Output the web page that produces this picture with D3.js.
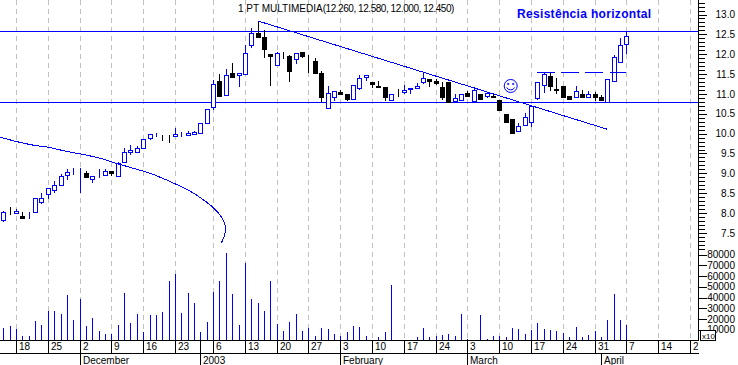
<!DOCTYPE html>
<html>
<head>
<meta charset="utf-8">
<script src="https://cdn.jsdelivr.net/npm/d3@7"></script>
<style>
  body { margin: 0; background: #fff; }
  svg { display: block; }
  text { font-family: "Liberation Sans", Arial, sans-serif; font-size: 10px; fill: #000; }
  .axis path { display: none; }
  .axis line { stroke: #000; shape-rendering: crispEdges; }
</style>
</head>
<body>
<svg id="chart" width="738" height="365"></svg>
<script>
var opens = [7.82,8.02,8.00,7.92,8.02,8.03,8.28,8.47,8.58,8.70,8.95,9.03,9.03,9.01,8.86,8.96,8.95,9.05,8.92,9.30,
  9.54,9.55,9.63,9.88,9.97,9.90,9.90,9.95,9.98,9.98,10.00,10.00,10.26,10.66,11.32,10.96,11.53,11.49,11.49,12.23,
  12.53,12.43,12.00,11.75,11.97,11.95,11.87,12.06,11.88,11.83,11.53,10.66,10.91,11.05,11.01,10.88,11.14,11.41,11.31,11.20,
  11.17,10.87,11.01,11.06,11.12,11.15,11.29,11.37,11.32,11.17,11.31,10.83,10.86,11.03,10.83,10.99,10.95,10.95,10.85,10.49,
  10.36,10.07,10.24,10.30,10.91,11.22,11.45,11.12,11.20,10.95,10.91,11.00,10.93,11.00,10.91,10.80,11.31,11.81,12.26];
var highs = [8.05,8.14,8.10,8.02,8.021,8.37,8.50,8.62,8.81,8.98,9.12,9.13,9.13,9.05,8.94,9.10,9.10,9.05,9.28,9.63,
  9.71,9.70,9.86,9.98,10.02,9.96,9.96,10.14,10.04,10.07,10.07,10.26,10.61,11.35,11.50,11.62,11.79,11.53,12.23,12.67,
  12.84,12.61,12.00,12.06,12.06,11.98,12.02,12.06,11.98,11.90,11.58,11.20,11.07,11.10,11.01,11.22,11.48,11.47,11.31,11.33,
  11.17,11.01,11.12,11.22,11.14,11.28,11.53,11.37,11.38,11.31,11.31,11.01,11.01,11.07,11.17,10.99,11.06,11.01,10.85,10.49,
  10.36,10.26,10.51,10.70,11.31,11.52,11.54,11.39,11.20,10.95,11.20,11.10,11.07,11.06,10.97,11.37,11.98,12.40,12.58];
var lows = [7.77,7.96,7.99,7.87,7.85,8.03,8.24,8.35,8.50,8.70,8.82,8.97,8.51,8.87,8.76,8.87,8.95,8.93,8.92,9.30,
  9.47,9.50,9.63,9.84,9.92,9.82,9.77,9.95,9.92,9.98,10.00,10.00,10.26,10.59,10.95,10.96,11.41,11.18,11.49,12.16,
  12.44,11.91,11.21,11.75,11.87,11.31,11.75,11.90,11.53,11.53,10.80,10.66,10.83,11.01,10.83,10.85,11.10,11.32,11.14,11.17,
  10.83,10.85,10.93,11.01,10.99,11.12,11.24,11.18,11.22,10.85,10.80,10.83,10.86,10.91,10.83,10.86,10.89,10.93,10.58,10.26,
  10.01,10.07,10.24,10.16,10.85,11.03,11.08,11.01,10.89,10.85,10.91,10.93,10.93,10.83,10.83,10.80,11.31,11.81,12.00];
var closes = [8.02,8.02,8.05,7.87,8.021,8.37,8.37,8.62,8.70,8.93,9.03,9.031,9.031,8.91,8.94,8.961,9.05,9.01,9.25,9.54,
  9.59,9.65,9.86,9.98,9.971,9.90,9.90,9.99,9.981,10.02,10.04,10.26,10.61,11.24,10.95,11.47,11.43,11.53,12.02,12.53,
  12.44,12.14,11.94,12.04,11.97,11.58,12.02,11.97,11.88,11.53,10.93,11.03,11.07,11.01,10.88,11.22,11.39,11.47,11.27,11.17,
  10.93,11.01,11.01,11.10,11.14,11.21,11.39,11.33,11.28,10.93,10.80,10.90,11.01,10.95,11.10,10.86,11.02,10.93,10.59,10.28,
  10.01,10.20,10.43,10.70,11.31,11.50,11.21,11.10,10.93,10.88,11.07,10.93,11.01,10.93,10.83,11.37,11.92,12.23,12.45];
var volumes = [12000,13900,11100,4600,4600,18500,14800,27800,27800,25000,42600,19400,38900,13900,21300,9300,6500,6500,14800,44400,
  16700,25000,8300,24100,24100,26800,55500,62000,25900,44400,35200,8300,17600,45400,55500,81500,43500,14800,72200,38900,
  35200,27800,55500,15700,9300,17600,25000,9300,12000,4600,12000,11100,6500,4600,8300,13900,13000,4600,900,2800,
  8300,51800,0,900,0,2800,12000,2800,4600,5500,6500,4600,25000,1800,900,24100,1800,4600,4600,3700,
  12000,11100,6500,10200,16700,11100,10200,9300,7400,3700,13000,3700,5500,9300,3700,19400,43500,19400,14800];

var weekIndex = [2,7,12,17,22,27,33,38,43,48,53,58,63,68,73,78,83,88,93,98,103,108];
var weekLabels = ['18','25','2','9','16','23','6','13','20','27','3','10','17','24','3','10','17','24','31','7','14','21'];
var monthIndex = [12,31,53,73,94];
var monthLabels = ['December','2003','February','March','April'];
var priceTicks = [7.5,8,8.5,9,9.5,10,10.5,11,11.5,12,12.5,13];
var priceMinorTicks = d3.range(71, 134).map(d => d / 10);
var volumeTicks = [10000,20000,30000,40000,50000,60000,70000,80000];

// hand drawn annotations, in bar index / price
var resistance = 12.58;
var support = 10.79;
var trendIndex = [40, 95];
var trendPrice = [12.84, 10.11];
var dashIndex = [83.9, 98];
var dashPrice = 11.53;
var arcIndex = [-0.5,2.1,4.7,7.3,10,12.1,15.2,17.8,20.4,23.1,26.7,29.4,31.4,33,34.1,34.7,35,34.7,34.3];
var arcPrice = [9.91,9.80,9.71,9.65,9.55,9.49,9.38,9.25,9.13,9.00,8.76,8.55,8.34,8.14,7.95,7.78,7.61,7.40,7.25];
var smileIndex = 79.8;
var smilePrice = 11.2;

var blue = '#0000ff';
var right = 698.5;
var axisY = 340.5;
var monthY = 353.5;

var svg = d3.select('#chart');

var x = d3.scaleLinear().domain([0, 108]).range([3.3, 690]);
var y = d3.scaleLinear().domain([13, 7.5]).range([14.5, 232.9]);
var yVol = d3.scaleLinear().domain([0, 80000]).range([340.5, 254.5]);
var px = i => Math.round(x(i)) + 0.5;

svg.append('defs').append('clipPath')
    .attr('id', 'plot-clip')
    .append('rect')
    .attr('width', right)
    .attr('height', 365);

// weekly grid
svg.append('g').selectAll('line')
    .data(weekIndex)
    .join('line')
    .attr('x1', d => px(d))
    .attr('x2', d => px(d))
    .attr('y1', 0)
    .attr('y2', axisY)
    .attr('stroke', '#c0c0c0')
    .attr('stroke-dasharray', '5,4')
    .attr('shape-rendering', 'crispEdges');

// volume
svg.append('g').selectAll('line')
    .data(volumes)
    .join('line')
    .attr('x1', (d, i) => px(i))
    .attr('x2', (d, i) => px(i))
    .attr('y1', yVol(0))
    .attr('y2', d => yVol(d))
    .attr('stroke', blue)
    .attr('shape-rendering', 'crispEdges');

// horizontal levels
svg.append('g').selectAll('line')
    .data([resistance, support])
    .join('line')
    .attr('x1', 0)
    .attr('x2', right)
    .attr('y1', d => Math.round(y(d)) + 0.5)
    .attr('y2', d => Math.round(y(d)) + 0.5)
    .attr('stroke', blue)
    .attr('shape-rendering', 'crispEdges');

// candles
var candle = svg.append('g').selectAll('g')
    .data(opens)
    .join('g')
    .attr('stroke', (d, i) => closes[i] > d ? blue : '#000')
    .attr('shape-rendering', 'crispEdges');

candle.append('line')
    .attr('x1', (d, i) => px(i))
    .attr('x2', (d, i) => px(i))
    .attr('y1', (d, i) => y(highs[i]))
    .attr('y2', (d, i) => y(lows[i]));

candle.append('rect')
    .attr('x', (d, i) => px(i) - 2)
    .attr('width', 4)
    .attr('y', (d, i) => Math.round(y(Math.max(d, closes[i]))) + 0.5)
    .attr('height', (d, i) => Math.round(Math.abs(y(d) - y(closes[i]))))
    .attr('fill', (d, i) => closes[i] > d ? '#fff' : '#000');

// trend line, dashed level and the arc
var line = d3.line().x(d => x(d[0])).y(d => y(d[1]));

svg.append('path')
    .attr('d', line(d3.zip(trendIndex, trendPrice)))
    .attr('fill', 'none')
    .attr('stroke', blue)
    .attr('shape-rendering', 'crispEdges');

svg.append('path')
    .attr('d', line(dashIndex.map(d => [d, dashPrice])))
    .attr('fill', 'none')
    .attr('stroke', blue)
    .attr('stroke-dasharray', '18,6.3')
    .attr('shape-rendering', 'crispEdges');

svg.append('path')
    .attr('d', line.curve(d3.curveCatmullRom)(d3.zip(arcIndex, arcPrice)))
    .attr('fill', 'none')
    .attr('stroke', blue)
    .attr('shape-rendering', 'crispEdges');

// smiley
var smile = svg.append('g')
    .attr('transform', 'translate(' + x(smileIndex) + ',' + y(smilePrice) + ')')
    .attr('fill', 'none')
    .attr('stroke', blue);

smile.append('circle').attr('r', 6.5);
smile.append('path').attr('d', 'M-4,1.5 A4.5,4.5 0 0 0 4,1.5');
smile.selectAll('.eye')
    .data([-2.5, 2.5])
    .join('circle')
    .attr('class', 'eye')
    .attr('cx', d => d)
    .attr('cy', -2)
    .attr('r', 0.7);

// axes
var priceMinor = svg.append('g')
    .attr('class', 'axis')
    .attr('transform', 'translate(' + right + ',0)')
    .call(d3.axisRight(y).tickValues(priceMinorTicks).tickSize(6).tickFormat(''));

var priceAxis = svg.append('g')
    .attr('class', 'axis')
    .attr('transform', 'translate(' + right + ',0)')
    .call(d3.axisRight(y).tickValues(priceTicks).tickSize(8).tickFormat(d3.format('.1f')));

var volumeAxis = svg.append('g')
    .attr('class', 'axis')
    .attr('transform', 'translate(' + right + ',0)')
    .call(d3.axisRight(yVol).tickValues(volumeTicks).tickSize(8).tickFormat(d => d));

[priceAxis, volumeAxis].forEach(a => {
  a.attr('font-family', null).attr('font-size', null);
  a.selectAll('text').attr('x', 36.5).attr('text-anchor', 'end');
});

svg.append('line')
    .attr('x1', right)
    .attr('x2', right)
    .attr('y1', 0)
    .attr('y2', axisY)
    .attr('stroke', '#000')
    .attr('shape-rendering', 'crispEdges');

// x10 box
var box = svg.append('g').attr('transform', 'translate(700.5,330.5)');
box.append('rect')
    .attr('width', 15)
    .attr('height', 10)
    .attr('fill', '#fff')
    .attr('stroke', '#000')
    .attr('shape-rendering', 'crispEdges');
box.append('text')
    .attr('x', 1.5)
    .attr('y', 8.5)
    .style('font-size', '8px')
    .text('x10');

var weekAxis = svg.append('g')
    .attr('class', 'axis')
    .attr('clip-path', 'url(#plot-clip)')
    .attr('transform', 'translate(0,' + axisY + ')')
    .call(d3.axisBottom(x).tickValues(weekIndex).tickSize(13).tickFormat((d, i) => weekLabels[i]));

var monthAxis = svg.append('g')
    .attr('class', 'axis')
    .attr('transform', 'translate(0,' + monthY + ')')
    .call(d3.axisBottom(x).tickValues(monthIndex).tickSize(12).tickFormat((d, i) => monthLabels[i]));

[weekAxis, monthAxis].forEach(a => {
  a.attr('font-family', null).attr('font-size', null);
  a.selectAll('.tick').attr('transform', d => 'translate(' + px(d) + ',0)');
  a.selectAll('text')
      .attr('text-anchor', 'start')
      .attr('x', 2.5)
      .attr('y', 9.5)
      .attr('dy', 0);
});
monthAxis.selectAll('text').attr('y', 10.5);

// the year tick runs through both rows
svg.append('line')
    .attr('x1', px(monthIndex[1]))
    .attr('x2', px(monthIndex[1]))
    .attr('y1', axisY)
    .attr('y2', monthY)
    .attr('stroke', '#000')
    .attr('shape-rendering', 'crispEdges');

[axisY, monthY].forEach(v => {
  svg.append('line')
      .attr('x1', 0)
      .attr('x2', right)
      .attr('y1', v)
      .attr('y2', v)
      .attr('stroke', '#000')
      .attr('shape-rendering', 'crispEdges');
});

// titles
var title = svg.append('text')
    .attr('x', 238)
    .attr('y', 12);
title.append('tspan')
    .text('1 PT MULTIMEDIA');
title.append('tspan')
    .style('letter-spacing', '-0.45px')
    .text('(12.260, 12.580, 12.000, 12.450)');

svg.append('text')
    .attr('x', 517)
    .attr('y', 18)
    .style('font-size', '12px')
    .style('font-weight', 'bold')
    .style('letter-spacing', '0.32px')
    .style('fill', blue)
    .text('Resistência horizontal');
</script>
</body>
</html>
